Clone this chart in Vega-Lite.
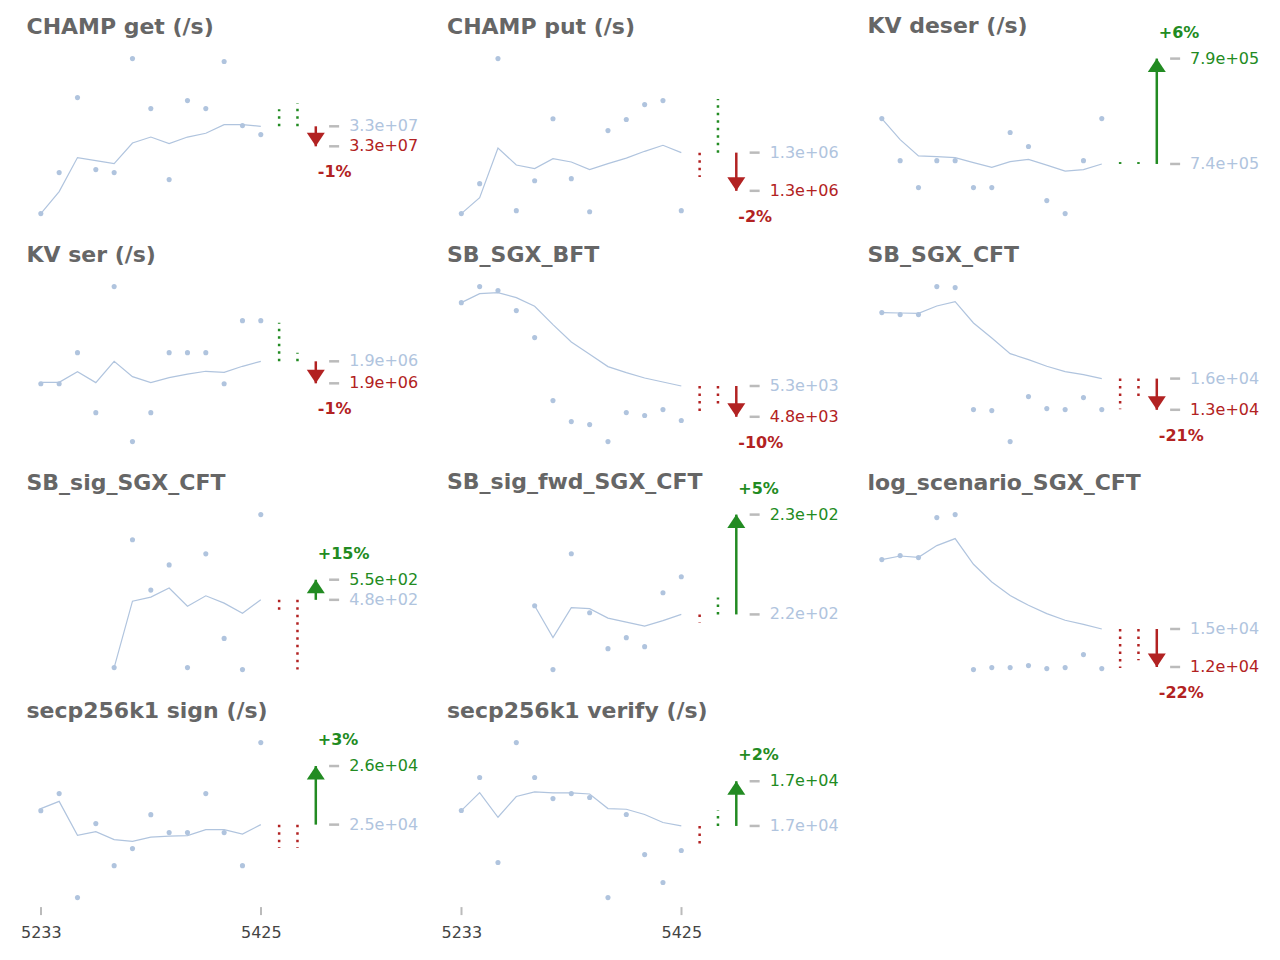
{
"$schema": "https://vega.github.io/schema/vega-lite/v6.json",
"padding": {"left": 19.5, "top": 14.6, "right": 0, "bottom": 0},
"config": {"view": {"stroke": null}, "font": "DejaVu Sans",
  "title": {"anchor": "start", "frame": "group", "fontSize": 22, "fontWeight": "bold", "color": "#666666", "baseline": "alphabetic", "offset": 17.1, "font": "DejaVu Sans"}},
"bounds": "flush",
"columns": 3,
"spacing": {"row": 73, "column": 100.5},
"resolve": {"scale": {"x": "independent", "y": "independent"}},
"data": {"values": [
{"p":"cg","k":"pt","x":5233,"y":31560000},{"p":"cg","k":"pt","x":5249,"y":32236000},{"p":"cg","k":"pt","x":5265,"y":33474000},{"p":"cg","k":"pt","x":5281,"y":32286000},{"p":"cg","k":"pt","x":5297,"y":32236000},{"p":"cg","k":"pt","x":5313,"y":34117000},{"p":"cg","k":"pt","x":5329,"y":33292000},{"p":"cg","k":"pt","x":5345,"y":32121000},{"p":"cg","k":"pt","x":5361,"y":33424000},{"p":"cg","k":"pt","x":5377,"y":33292000},{"p":"cg","k":"pt","x":5393,"y":34068000},{"p":"cg","k":"pt","x":5409,"y":33012000},{"p":"cg","k":"pt","x":5425,"y":32863000},
{"p":"cg","k":"ln","x":5233,"y":31560000},{"p":"cg","k":"ln","x":5249,"y":31923000},{"p":"cg","k":"ln","x":5265,"y":32484000},{"p":"cg","k":"ln","x":5281,"y":32434000},{"p":"cg","k":"ln","x":5297,"y":32385000},{"p":"cg","k":"ln","x":5313,"y":32724000},{"p":"cg","k":"ln","x":5329,"y":32823000},{"p":"cg","k":"ln","x":5345,"y":32715000},{"p":"cg","k":"ln","x":5361,"y":32823000},{"p":"cg","k":"ln","x":5377,"y":32885000},{"p":"cg","k":"ln","x":5393,"y":33028000},{"p":"cg","k":"ln","x":5409,"y":33028000},{"p":"cg","k":"ln","x":5425,"y":33000000},
{"p":"cg","k":"dot","x":5441,"y":33000000,"y2":33280000,"d":"up"},{"p":"cg","k":"dot","x":5457,"y":33000000,"y2":33380000,"d":"up"},
{"p":"cg","k":"arr","x":5473,"y":33000000,"y2":32670000,"d":"down","t":"-1%"},
{"p":"cg","k":"lbl","x":5489,"y":33000000,"d":"base","t":"3.3e+07"},{"p":"cg","k":"lbl","x":5489,"y":32670000,"d":"down","t":"3.3e+07"},

{"p":"cp","k":"pt","x":5233,"y":1258500},{"p":"cp","k":"pt","x":5249,"y":1278900},{"p":"cp","k":"pt","x":5265,"y":1364000},{"p":"cp","k":"pt","x":5281,"y":1260500},{"p":"cp","k":"pt","x":5297,"y":1280900},{"p":"cp","k":"pt","x":5313,"y":1323100},{"p":"cp","k":"pt","x":5329,"y":1282300},{"p":"cp","k":"pt","x":5345,"y":1259800},{"p":"cp","k":"pt","x":5361,"y":1315000},{"p":"cp","k":"pt","x":5377,"y":1322500},{"p":"cp","k":"pt","x":5393,"y":1332700},{"p":"cp","k":"pt","x":5409,"y":1335400},{"p":"cp","k":"pt","x":5425,"y":1260500},
{"p":"cp","k":"ln","x":5233,"y":1258500},{"p":"cp","k":"ln","x":5249,"y":1269400},{"p":"cp","k":"ln","x":5265,"y":1303100},{"p":"cp","k":"ln","x":5281,"y":1291600},{"p":"cp","k":"ln","x":5297,"y":1289100},{"p":"cp","k":"ln","x":5313,"y":1295900},{"p":"cp","k":"ln","x":5329,"y":1293600},{"p":"cp","k":"ln","x":5345,"y":1288400},{"p":"cp","k":"ln","x":5361,"y":1292500},{"p":"cp","k":"ln","x":5377,"y":1296300},{"p":"cp","k":"ln","x":5393,"y":1300900},{"p":"cp","k":"ln","x":5409,"y":1305000},{"p":"cp","k":"ln","x":5425,"y":1300000},
{"p":"cp","k":"dot","x":5441,"y":1300000,"y2":1283400,"d":"down"},{"p":"cp","k":"dot","x":5457,"y":1300000,"y2":1336500,"d":"up"},
{"p":"cp","k":"arr","x":5473,"y":1300000,"y2":1274000,"d":"down","t":"-2%"},
{"p":"cp","k":"lbl","x":5489,"y":1300000,"d":"base","t":"1.3e+06"},{"p":"cp","k":"lbl","x":5489,"y":1274000,"d":"down","t":"1.3e+06"},

{"p":"kd","k":"pt","x":5233,"y":762200},{"p":"kd","k":"pt","x":5249,"y":744400},{"p":"kd","k":"pt","x":5265,"y":733000},{"p":"kd","k":"pt","x":5281,"y":744400},{"p":"kd","k":"pt","x":5297,"y":744400},{"p":"kd","k":"pt","x":5313,"y":733000},{"p":"kd","k":"pt","x":5329,"y":733000},{"p":"kd","k":"pt","x":5345,"y":756300},{"p":"kd","k":"pt","x":5361,"y":750400},{"p":"kd","k":"pt","x":5377,"y":727500},{"p":"kd","k":"pt","x":5393,"y":722000},{"p":"kd","k":"pt","x":5409,"y":744400},{"p":"kd","k":"pt","x":5425,"y":762200},
{"p":"kd","k":"ln","x":5233,"y":762200},{"p":"kd","k":"ln","x":5249,"y":753300},{"p":"kd","k":"ln","x":5265,"y":746400},{"p":"kd","k":"ln","x":5281,"y":746100},{"p":"kd","k":"ln","x":5297,"y":745700},{"p":"kd","k":"ln","x":5313,"y":743600},{"p":"kd","k":"ln","x":5329,"y":741600},{"p":"kd","k":"ln","x":5345,"y":744000},{"p":"kd","k":"ln","x":5361,"y":744900},{"p":"kd","k":"ln","x":5377,"y":742500},{"p":"kd","k":"ln","x":5393,"y":740000},{"p":"kd","k":"ln","x":5409,"y":740600},{"p":"kd","k":"ln","x":5425,"y":743000},
{"p":"kd","k":"dot","x":5441,"y":743000,"y2":743800,"d":"up"},{"p":"kd","k":"dot","x":5457,"y":743000,"y2":743800,"d":"up"},
{"p":"kd","k":"arr","x":5473,"y":743000,"y2":787580,"d":"up","t":"+6%"},
{"p":"kd","k":"lbl","x":5489,"y":743000,"d":"base","t":"7.4e+05"},{"p":"kd","k":"lbl","x":5489,"y":787580,"d":"up","t":"7.9e+05"},

{"p":"ks","k":"pt","x":5233,"y":1880700},{"p":"ks","k":"pt","x":5249,"y":1880700},{"p":"ks","k":"pt","x":5265,"y":1907500},{"p":"ks","k":"pt","x":5281,"y":1855700},{"p":"ks","k":"pt","x":5297,"y":1964500},{"p":"ks","k":"pt","x":5313,"y":1830700},{"p":"ks","k":"pt","x":5329,"y":1855700},{"p":"ks","k":"pt","x":5345,"y":1907500},{"p":"ks","k":"pt","x":5361,"y":1907500},{"p":"ks","k":"pt","x":5377,"y":1907500},{"p":"ks","k":"pt","x":5393,"y":1880700},{"p":"ks","k":"pt","x":5409,"y":1935100},{"p":"ks","k":"pt","x":5425,"y":1935100},
{"p":"ks","k":"ln","x":5233,"y":1881900},{"p":"ks","k":"ln","x":5249,"y":1881900},{"p":"ks","k":"ln","x":5265,"y":1891100},{"p":"ks","k":"ln","x":5281,"y":1881600},{"p":"ks","k":"ln","x":5297,"y":1900000},{"p":"ks","k":"ln","x":5313,"y":1886800},{"p":"ks","k":"ln","x":5329,"y":1881600},{"p":"ks","k":"ln","x":5345,"y":1885900},{"p":"ks","k":"ln","x":5361,"y":1889000},{"p":"ks","k":"ln","x":5377,"y":1891400},{"p":"ks","k":"ln","x":5393,"y":1890500},{"p":"ks","k":"ln","x":5409,"y":1895700},{"p":"ks","k":"ln","x":5425,"y":1900000},
{"p":"ks","k":"dot","x":5441,"y":1900000,"y2":1933400,"d":"up"},{"p":"ks","k":"dot","x":5457,"y":1900000,"y2":1907500,"d":"up"},
{"p":"ks","k":"arr","x":5473,"y":1900000,"y2":1881000,"d":"down","t":"-1%"},
{"p":"ks","k":"lbl","x":5489,"y":1900000,"d":"base","t":"1.9e+06"},{"p":"ks","k":"lbl","x":5489,"y":1881000,"d":"down","t":"1.9e+06"},

{"p":"bft","k":"pt","x":5233,"y":6735},{"p":"bft","k":"pt","x":5249,"y":7011},{"p":"bft","k":"pt","x":5265,"y":6942},{"p":"bft","k":"pt","x":5281,"y":6598},{"p":"bft","k":"pt","x":5297,"y":6133},{"p":"bft","k":"pt","x":5313,"y":5049},{"p":"bft","k":"pt","x":5329,"y":4687},{"p":"bft","k":"pt","x":5345,"y":4636},{"p":"bft","k":"pt","x":5361,"y":4343},{"p":"bft","k":"pt","x":5377,"y":4842},{"p":"bft","k":"pt","x":5393,"y":4791},{"p":"bft","k":"pt","x":5409,"y":4894},{"p":"bft","k":"pt","x":5425,"y":4705},
{"p":"bft","k":"ln","x":5233,"y":6735},{"p":"bft","k":"ln","x":5249,"y":6890},{"p":"bft","k":"ln","x":5265,"y":6907},{"p":"bft","k":"ln","x":5281,"y":6821},{"p":"bft","k":"ln","x":5297,"y":6672},{"p":"bft","k":"ln","x":5313,"y":6357},{"p":"bft","k":"ln","x":5329,"y":6057},{"p":"bft","k":"ln","x":5345,"y":5846},{"p":"bft","k":"ln","x":5361,"y":5634},{"p":"bft","k":"ln","x":5377,"y":5531},{"p":"bft","k":"ln","x":5393,"y":5438},{"p":"bft","k":"ln","x":5409,"y":5369},{"p":"bft","k":"ln","x":5425,"y":5300},
{"p":"bft","k":"dot","x":5441,"y":5300,"y2":4865,"d":"down"},{"p":"bft","k":"dot","x":5457,"y":5300,"y2":4997,"d":"down"},
{"p":"bft","k":"arr","x":5473,"y":5300,"y2":4770,"d":"down","t":"-10%"},
{"p":"bft","k":"lbl","x":5489,"y":5300,"d":"base","t":"5.3e+03"},{"p":"bft","k":"lbl","x":5489,"y":4770,"d":"down","t":"4.8e+03"},

{"p":"cft","k":"pt","x":5233,"y":23108},{"p":"cft","k":"pt","x":5249,"y":22893},{"p":"cft","k":"pt","x":5265,"y":22893},{"p":"cft","k":"pt","x":5281,"y":25908},{"p":"cft","k":"pt","x":5297,"y":25801},{"p":"cft","k":"pt","x":5313,"y":12661},{"p":"cft","k":"pt","x":5329,"y":12554},{"p":"cft","k":"pt","x":5345,"y":9215},{"p":"cft","k":"pt","x":5361,"y":14061},{"p":"cft","k":"pt","x":5377,"y":12769},{"p":"cft","k":"pt","x":5393,"y":12661},{"p":"cft","k":"pt","x":5409,"y":13954},{"p":"cft","k":"pt","x":5425,"y":12661},
{"p":"cft","k":"ln","x":5233,"y":23108},{"p":"cft","k":"ln","x":5249,"y":23065},{"p":"cft","k":"ln","x":5265,"y":23033},{"p":"cft","k":"ln","x":5281,"y":23819},{"p":"cft","k":"ln","x":5297,"y":24293},{"p":"cft","k":"ln","x":5313,"y":21988},{"p":"cft","k":"ln","x":5329,"y":20373},{"p":"cft","k":"ln","x":5345,"y":18693},{"p":"cft","k":"ln","x":5361,"y":18046},{"p":"cft","k":"ln","x":5377,"y":17325},{"p":"cft","k":"ln","x":5393,"y":16754},{"p":"cft","k":"ln","x":5409,"y":16431},{"p":"cft","k":"ln","x":5425,"y":16000},
{"p":"cft","k":"dot","x":5441,"y":16000,"y2":12694,"d":"down"},{"p":"cft","k":"dot","x":5457,"y":16000,"y2":14126,"d":"down"},
{"p":"cft","k":"arr","x":5473,"y":16000,"y2":12640,"d":"down","t":"-21%"},
{"p":"cft","k":"lbl","x":5489,"y":16000,"d":"base","t":"1.6e+04"},{"p":"cft","k":"lbl","x":5489,"y":12640,"d":"down","t":"1.3e+04"},

{"p":"sig","k":"pt","x":5297,"y":237.7},{"p":"sig","k":"pt","x":5313,"y":694.9},{"p":"sig","k":"pt","x":5329,"y":514.9},{"p":"sig","k":"pt","x":5345,"y":604.9},{"p":"sig","k":"pt","x":5361,"y":237.7},{"p":"sig","k":"pt","x":5377,"y":644.5},{"p":"sig","k":"pt","x":5393,"y":342.1},{"p":"sig","k":"pt","x":5409,"y":230.5},{"p":"sig","k":"pt","x":5425,"y":784.9},
{"p":"sig","k":"ln","x":5297,"y":237.7},{"p":"sig","k":"ln","x":5313,"y":475.3},{"p":"sig","k":"ln","x":5329,"y":489.7},{"p":"sig","k":"ln","x":5345,"y":522.1},{"p":"sig","k":"ln","x":5361,"y":457.3},{"p":"sig","k":"ln","x":5377,"y":494.4},{"p":"sig","k":"ln","x":5393,"y":468.1},{"p":"sig","k":"ln","x":5409,"y":432.1},{"p":"sig","k":"ln","x":5425,"y":480},
{"p":"sig","k":"dot","x":5441,"y":480,"y2":442.9,"d":"down"},{"p":"sig","k":"dot","x":5457,"y":480,"y2":230.5,"d":"down"},
{"p":"sig","k":"arr","x":5473,"y":480,"y2":552,"d":"up","t":"+15%"},
{"p":"sig","k":"lbl","x":5489,"y":480,"d":"base","t":"4.8e+02"},{"p":"sig","k":"lbl","x":5489,"y":552,"d":"up","t":"5.5e+02"},

{"p":"fwd","k":"pt","x":5297,"y":220.96},{"p":"fwd","k":"pt","x":5313,"y":213.92},{"p":"fwd","k":"pt","x":5329,"y":226.68},{"p":"fwd","k":"pt","x":5345,"y":220.19},{"p":"fwd","k":"pt","x":5361,"y":216.23},{"p":"fwd","k":"pt","x":5377,"y":217.44},{"p":"fwd","k":"pt","x":5393,"y":216.45},{"p":"fwd","k":"pt","x":5409,"y":222.39},{"p":"fwd","k":"pt","x":5425,"y":224.15},
{"p":"fwd","k":"ln","x":5297,"y":220.96},{"p":"fwd","k":"ln","x":5313,"y":217.44},{"p":"fwd","k":"ln","x":5329,"y":220.74},{"p":"fwd","k":"ln","x":5345,"y":220.63},{"p":"fwd","k":"ln","x":5361,"y":219.59},{"p":"fwd","k":"ln","x":5377,"y":219.15},{"p":"fwd","k":"ln","x":5393,"y":218.71},{"p":"fwd","k":"ln","x":5409,"y":219.31},{"p":"fwd","k":"ln","x":5425,"y":220},
{"p":"fwd","k":"dot","x":5441,"y":220,"y2":219.12,"d":"down"},{"p":"fwd","k":"dot","x":5457,"y":220,"y2":221.87,"d":"up"},
{"p":"fwd","k":"arr","x":5473,"y":220,"y2":231,"d":"up","t":"+5%"},
{"p":"fwd","k":"lbl","x":5489,"y":220,"d":"base","t":"2.2e+02"},{"p":"fwd","k":"lbl","x":5489,"y":231,"d":"up","t":"2.3e+02"},

{"p":"log","k":"pt","x":5233,"y":21027},{"p":"log","k":"pt","x":5249,"y":21374},{"p":"log","k":"pt","x":5265,"y":21200},{"p":"log","k":"pt","x":5281,"y":24674},{"p":"log","k":"pt","x":5297,"y":24934},{"p":"log","k":"pt","x":5313,"y":11474},{"p":"log","k":"pt","x":5329,"y":11648},{"p":"log","k":"pt","x":5345,"y":11648},{"p":"log","k":"pt","x":5361,"y":11822},{"p":"log","k":"pt","x":5377,"y":11561},{"p":"log","k":"pt","x":5393,"y":11648},{"p":"log","k":"pt","x":5409,"y":12777},{"p":"log","k":"pt","x":5425,"y":11561},
{"p":"log","k":"ln","x":5233,"y":21027},{"p":"log","k":"ln","x":5249,"y":21339},{"p":"log","k":"ln","x":5265,"y":21226},{"p":"log","k":"ln","x":5281,"y":22242},{"p":"log","k":"ln","x":5297,"y":22850},{"p":"log","k":"ln","x":5313,"y":20618},{"p":"log","k":"ln","x":5329,"y":19081},{"p":"log","k":"ln","x":5345,"y":17900},{"p":"log","k":"ln","x":5361,"y":17058},{"p":"log","k":"ln","x":5377,"y":16337},{"p":"log","k":"ln","x":5393,"y":15756},{"p":"log","k":"ln","x":5409,"y":15408},{"p":"log","k":"ln","x":5425,"y":15000},
{"p":"log","k":"dot","x":5441,"y":15000,"y2":11613,"d":"down"},{"p":"log","k":"dot","x":5457,"y":15000,"y2":12282,"d":"down"},
{"p":"log","k":"arr","x":5473,"y":15000,"y2":11700,"d":"down","t":"-22%"},
{"p":"log","k":"lbl","x":5489,"y":15000,"d":"base","t":"1.5e+04"},{"p":"log","k":"lbl","x":5489,"y":11700,"d":"down","t":"1.2e+04"},

{"p":"sign","k":"pt","x":5233,"y":25179},{"p":"sign","k":"pt","x":5249,"y":25397},{"p":"sign","k":"pt","x":5265,"y":24066},{"p":"sign","k":"pt","x":5281,"y":25013},{"p":"sign","k":"pt","x":5297,"y":24475},{"p":"sign","k":"pt","x":5313,"y":24693},{"p":"sign","k":"pt","x":5329,"y":25128},{"p":"sign","k":"pt","x":5345,"y":24898},{"p":"sign","k":"pt","x":5361,"y":24898},{"p":"sign","k":"pt","x":5377,"y":25397},{"p":"sign","k":"pt","x":5393,"y":24898},{"p":"sign","k":"pt","x":5409,"y":24475},{"p":"sign","k":"pt","x":5425,"y":26050},
{"p":"sign","k":"ln","x":5233,"y":25205},{"p":"sign","k":"ln","x":5249,"y":25298},{"p":"sign","k":"ln","x":5265,"y":24863},{"p":"sign","k":"ln","x":5281,"y":24910},{"p":"sign","k":"ln","x":5297,"y":24808},{"p":"sign","k":"ln","x":5313,"y":24786},{"p":"sign","k":"ln","x":5329,"y":24841},{"p":"sign","k":"ln","x":5345,"y":24854},{"p":"sign","k":"ln","x":5361,"y":24859},{"p":"sign","k":"ln","x":5377,"y":24936},{"p":"sign","k":"ln","x":5393,"y":24936},{"p":"sign","k":"ln","x":5409,"y":24880},{"p":"sign","k":"ln","x":5425,"y":25000},
{"p":"sign","k":"dot","x":5441,"y":25000,"y2":24700,"d":"down"},{"p":"sign","k":"dot","x":5457,"y":25000,"y2":24700,"d":"down"},
{"p":"sign","k":"arr","x":5473,"y":25000,"y2":25750,"d":"up","t":"+3%"},
{"p":"sign","k":"lbl","x":5489,"y":25000,"d":"base","t":"2.5e+04"},{"p":"sign","k":"lbl","x":5489,"y":25750,"d":"up","t":"2.6e+04"},

{"p":"ver","k":"pt","x":5233,"y":17117},{"p":"ver","k":"pt","x":5249,"y":17368},{"p":"ver","k":"pt","x":5265,"y":16722},{"p":"ver","k":"pt","x":5281,"y":17634},{"p":"ver","k":"pt","x":5297,"y":17368},{"p":"ver","k":"pt","x":5313,"y":17208},{"p":"ver","k":"pt","x":5329,"y":17246},{"p":"ver","k":"pt","x":5345,"y":17216},{"p":"ver","k":"pt","x":5361,"y":16455},{"p":"ver","k":"pt","x":5377,"y":17087},{"p":"ver","k":"pt","x":5393,"y":16782},{"p":"ver","k":"pt","x":5409,"y":16570},{"p":"ver","k":"pt","x":5425,"y":16813},
{"p":"ver","k":"ln","x":5233,"y":17117},{"p":"ver","k":"ln","x":5249,"y":17254},{"p":"ver","k":"ln","x":5265,"y":17066},{"p":"ver","k":"ln","x":5281,"y":17224},{"p":"ver","k":"ln","x":5297,"y":17259},{"p":"ver","k":"ln","x":5313,"y":17251},{"p":"ver","k":"ln","x":5329,"y":17251},{"p":"ver","k":"ln","x":5345,"y":17243},{"p":"ver","k":"ln","x":5361,"y":17132},{"p":"ver","k":"ln","x":5377,"y":17127},{"p":"ver","k":"ln","x":5393,"y":17087},{"p":"ver","k":"ln","x":5409,"y":17026},{"p":"ver","k":"ln","x":5425,"y":17000},
{"p":"ver","k":"dot","x":5441,"y":17000,"y2":16866,"d":"down"},{"p":"ver","k":"dot","x":5457,"y":17000,"y2":17117,"d":"up"},
{"p":"ver","k":"arr","x":5473,"y":17000,"y2":17340,"d":"up","t":"+2%"},
{"p":"ver","k":"lbl","x":5489,"y":17000,"d":"base","t":"1.7e+04"},{"p":"ver","k":"lbl","x":5489,"y":17340,"d":"up","t":"1.7e+04"}
]},
"concat": [
{"title": "CHAMP get (/s)", "width": 320, "height": 155, "transform": [{"filter": "datum.p=='cg'"}],
 "encoding": {"x": {"field": "x", "type": "quantitative", "scale": {"domain": [5220.5, 5499.8], "nice": false, "zero": false}, "axis": null}, "y": {"field": "y", "type": "quantitative", "scale": {"zero": false, "nice": false}, "axis": null}},
 "layer": [
  {"transform": [{"filter": "datum.k=='pt'"}], "mark": {"type": "circle", "size": 26, "color": "#b0c4de", "opacity": 1}},
  {"transform": [{"filter": "datum.k=='ln'"}], "mark": {"type": "line", "color": "#b0c4de", "strokeWidth": 1.2}},
  {"transform": [{"filter": "datum.k=='dot'"}], "mark": {"type": "rule", "strokeWidth": 2.5, "strokeDash": [2.5, 5]}, "encoding": {"y2": {"field": "y2"}, "color": {"field": "d", "type": "nominal", "scale": {"domain": ["base", "up", "down"], "range": ["#b0c4de", "#228b22", "#b22222"]}, "legend": null}}},
  {"transform": [{"filter": "datum.k=='arr'"}], "mark": {"type": "rule", "strokeWidth": 2.5}, "encoding": {"y2": {"field": "y2"}, "color": {"field": "d", "type": "nominal", "scale": {"domain": ["base", "up", "down"], "range": ["#b0c4de", "#228b22", "#b22222"]}, "legend": null}}},
  {"transform": [{"filter": "datum.k=='arr'"}], "mark": {"type": "point", "filled": true, "size": 324, "opacity": 1, "strokeWidth": 0}, "encoding": {"y": {"field": "y2", "type": "quantitative", "scale": {"zero": false, "nice": false}, "axis": null}, "color": {"field": "d", "type": "nominal", "scale": {"domain": ["base", "up", "down"], "range": ["#b0c4de", "#228b22", "#b22222"]}, "legend": null}, "shape": {"field": "d", "type": "nominal", "scale": {"domain": ["up", "down"], "range": ["M-1,1.5L1,1.5L0,0Z", "M-1,-1.5L1,-1.5L0,0Z"]}, "legend": null}}},
  {"transform": [{"filter": "datum.k=='lbl'"}], "mark": {"type": "point", "shape": "stroke", "size": 100, "strokeWidth": 2.5, "color": "#bbbbbb", "opacity": 1}},
  {"transform": [{"filter": "datum.k=='lbl'"}], "mark": {"type": "text", "align": "left", "baseline": "middle", "dx": 15, "fontSize": 16}, "encoding": {"text": {"field": "t"}, "color": {"field": "d", "type": "nominal", "scale": {"domain": ["base", "up", "down"], "range": ["#b0c4de", "#228b22", "#b22222"]}, "legend": null}}},
  {"transform": [{"filter": "datum.k=='arr' && datum.d=='up'"}], "mark": {"type": "text", "align": "left", "baseline": "middle", "dx": 2, "dy": -26, "fontSize": 16, "fontWeight": "bold"}, "encoding": {"y": {"field": "y2", "type": "quantitative", "scale": {"zero": false, "nice": false}, "axis": null}, "text": {"field": "t"}, "color": {"field": "d", "type": "nominal", "scale": {"domain": ["base", "up", "down"], "range": ["#b0c4de", "#228b22", "#b22222"]}, "legend": null}}},
  {"transform": [{"filter": "datum.k=='arr' && datum.d=='down'"}], "mark": {"type": "text", "align": "left", "baseline": "middle", "dx": 2, "dy": 26, "fontSize": 16, "fontWeight": "bold"}, "encoding": {"y": {"field": "y2", "type": "quantitative", "scale": {"zero": false, "nice": false}, "axis": null}, "text": {"field": "t"}, "color": {"field": "d", "type": "nominal", "scale": {"domain": ["base", "up", "down"], "range": ["#b0c4de", "#228b22", "#b22222"]}, "legend": null}}}
 ]},
{"title": "CHAMP put (/s)", "width": 320, "height": 155, "transform": [{"filter": "datum.p=='cp'"}],
 "encoding": {"x": {"field": "x", "type": "quantitative", "scale": {"domain": [5220.5, 5499.8], "nice": false, "zero": false}, "axis": null}, "y": {"field": "y", "type": "quantitative", "scale": {"zero": false, "nice": false}, "axis": null}},
 "layer": [
  {"transform": [{"filter": "datum.k=='pt'"}], "mark": {"type": "circle", "size": 26, "color": "#b0c4de", "opacity": 1}},
  {"transform": [{"filter": "datum.k=='ln'"}], "mark": {"type": "line", "color": "#b0c4de", "strokeWidth": 1.2}},
  {"transform": [{"filter": "datum.k=='dot'"}], "mark": {"type": "rule", "strokeWidth": 2.5, "strokeDash": [2.5, 5]}, "encoding": {"y2": {"field": "y2"}, "color": {"field": "d", "type": "nominal", "scale": {"domain": ["base", "up", "down"], "range": ["#b0c4de", "#228b22", "#b22222"]}, "legend": null}}},
  {"transform": [{"filter": "datum.k=='arr'"}], "mark": {"type": "rule", "strokeWidth": 2.5}, "encoding": {"y2": {"field": "y2"}, "color": {"field": "d", "type": "nominal", "scale": {"domain": ["base", "up", "down"], "range": ["#b0c4de", "#228b22", "#b22222"]}, "legend": null}}},
  {"transform": [{"filter": "datum.k=='arr'"}], "mark": {"type": "point", "filled": true, "size": 324, "opacity": 1, "strokeWidth": 0}, "encoding": {"y": {"field": "y2", "type": "quantitative", "scale": {"zero": false, "nice": false}, "axis": null}, "color": {"field": "d", "type": "nominal", "scale": {"domain": ["base", "up", "down"], "range": ["#b0c4de", "#228b22", "#b22222"]}, "legend": null}, "shape": {"field": "d", "type": "nominal", "scale": {"domain": ["up", "down"], "range": ["M-1,1.5L1,1.5L0,0Z", "M-1,-1.5L1,-1.5L0,0Z"]}, "legend": null}}},
  {"transform": [{"filter": "datum.k=='lbl'"}], "mark": {"type": "point", "shape": "stroke", "size": 100, "strokeWidth": 2.5, "color": "#bbbbbb", "opacity": 1}},
  {"transform": [{"filter": "datum.k=='lbl'"}], "mark": {"type": "text", "align": "left", "baseline": "middle", "dx": 15, "fontSize": 16}, "encoding": {"text": {"field": "t"}, "color": {"field": "d", "type": "nominal", "scale": {"domain": ["base", "up", "down"], "range": ["#b0c4de", "#228b22", "#b22222"]}, "legend": null}}},
  {"transform": [{"filter": "datum.k=='arr' && datum.d=='up'"}], "mark": {"type": "text", "align": "left", "baseline": "middle", "dx": 2, "dy": -26, "fontSize": 16, "fontWeight": "bold"}, "encoding": {"y": {"field": "y2", "type": "quantitative", "scale": {"zero": false, "nice": false}, "axis": null}, "text": {"field": "t"}, "color": {"field": "d", "type": "nominal", "scale": {"domain": ["base", "up", "down"], "range": ["#b0c4de", "#228b22", "#b22222"]}, "legend": null}}},
  {"transform": [{"filter": "datum.k=='arr' && datum.d=='down'"}], "mark": {"type": "text", "align": "left", "baseline": "middle", "dx": 2, "dy": 26, "fontSize": 16, "fontWeight": "bold"}, "encoding": {"y": {"field": "y2", "type": "quantitative", "scale": {"zero": false, "nice": false}, "axis": null}, "text": {"field": "t"}, "color": {"field": "d", "type": "nominal", "scale": {"domain": ["base", "up", "down"], "range": ["#b0c4de", "#228b22", "#b22222"]}, "legend": null}}}
 ]},
{"title": {"text": "KV deser (/s)", "offset": -13.9}, "width": 320, "height": 155, "transform": [{"filter": "datum.p=='kd'"}],
 "encoding": {"x": {"field": "x", "type": "quantitative", "scale": {"domain": [5220.5, 5499.8], "nice": false, "zero": false}, "axis": null}, "y": {"field": "y", "type": "quantitative", "scale": {"zero": false, "nice": false}, "axis": null}},
 "layer": [
  {"transform": [{"filter": "datum.k=='pt'"}], "mark": {"type": "circle", "size": 26, "color": "#b0c4de", "opacity": 1}},
  {"transform": [{"filter": "datum.k=='ln'"}], "mark": {"type": "line", "color": "#b0c4de", "strokeWidth": 1.2}},
  {"transform": [{"filter": "datum.k=='dot'"}], "mark": {"type": "rule", "strokeWidth": 2.5, "strokeDash": [2.5, 5]}, "encoding": {"y2": {"field": "y2"}, "color": {"field": "d", "type": "nominal", "scale": {"domain": ["base", "up", "down"], "range": ["#b0c4de", "#228b22", "#b22222"]}, "legend": null}}},
  {"transform": [{"filter": "datum.k=='arr'"}], "mark": {"type": "rule", "strokeWidth": 2.5}, "encoding": {"y2": {"field": "y2"}, "color": {"field": "d", "type": "nominal", "scale": {"domain": ["base", "up", "down"], "range": ["#b0c4de", "#228b22", "#b22222"]}, "legend": null}}},
  {"transform": [{"filter": "datum.k=='arr'"}], "mark": {"type": "point", "filled": true, "size": 324, "opacity": 1, "strokeWidth": 0}, "encoding": {"y": {"field": "y2", "type": "quantitative", "scale": {"zero": false, "nice": false}, "axis": null}, "color": {"field": "d", "type": "nominal", "scale": {"domain": ["base", "up", "down"], "range": ["#b0c4de", "#228b22", "#b22222"]}, "legend": null}, "shape": {"field": "d", "type": "nominal", "scale": {"domain": ["up", "down"], "range": ["M-1,1.5L1,1.5L0,0Z", "M-1,-1.5L1,-1.5L0,0Z"]}, "legend": null}}},
  {"transform": [{"filter": "datum.k=='lbl'"}], "mark": {"type": "point", "shape": "stroke", "size": 100, "strokeWidth": 2.5, "color": "#bbbbbb", "opacity": 1}},
  {"transform": [{"filter": "datum.k=='lbl'"}], "mark": {"type": "text", "align": "left", "baseline": "middle", "dx": 15, "fontSize": 16}, "encoding": {"text": {"field": "t"}, "color": {"field": "d", "type": "nominal", "scale": {"domain": ["base", "up", "down"], "range": ["#b0c4de", "#228b22", "#b22222"]}, "legend": null}}},
  {"transform": [{"filter": "datum.k=='arr' && datum.d=='up'"}], "mark": {"type": "text", "align": "left", "baseline": "middle", "dx": 2, "dy": -26, "fontSize": 16, "fontWeight": "bold"}, "encoding": {"y": {"field": "y2", "type": "quantitative", "scale": {"zero": false, "nice": false}, "axis": null}, "text": {"field": "t"}, "color": {"field": "d", "type": "nominal", "scale": {"domain": ["base", "up", "down"], "range": ["#b0c4de", "#228b22", "#b22222"]}, "legend": null}}},
  {"transform": [{"filter": "datum.k=='arr' && datum.d=='down'"}], "mark": {"type": "text", "align": "left", "baseline": "middle", "dx": 2, "dy": 26, "fontSize": 16, "fontWeight": "bold"}, "encoding": {"y": {"field": "y2", "type": "quantitative", "scale": {"zero": false, "nice": false}, "axis": null}, "text": {"field": "t"}, "color": {"field": "d", "type": "nominal", "scale": {"domain": ["base", "up", "down"], "range": ["#b0c4de", "#228b22", "#b22222"]}, "legend": null}}}
 ]},
{"title": "KV ser (/s)", "width": 320, "height": 155, "transform": [{"filter": "datum.p=='ks'"}],
 "encoding": {"x": {"field": "x", "type": "quantitative", "scale": {"domain": [5220.5, 5499.8], "nice": false, "zero": false}, "axis": null}, "y": {"field": "y", "type": "quantitative", "scale": {"zero": false, "nice": false}, "axis": null}},
 "layer": [
  {"transform": [{"filter": "datum.k=='pt'"}], "mark": {"type": "circle", "size": 26, "color": "#b0c4de", "opacity": 1}},
  {"transform": [{"filter": "datum.k=='ln'"}], "mark": {"type": "line", "color": "#b0c4de", "strokeWidth": 1.2}},
  {"transform": [{"filter": "datum.k=='dot'"}], "mark": {"type": "rule", "strokeWidth": 2.5, "strokeDash": [2.5, 5]}, "encoding": {"y2": {"field": "y2"}, "color": {"field": "d", "type": "nominal", "scale": {"domain": ["base", "up", "down"], "range": ["#b0c4de", "#228b22", "#b22222"]}, "legend": null}}},
  {"transform": [{"filter": "datum.k=='arr'"}], "mark": {"type": "rule", "strokeWidth": 2.5}, "encoding": {"y2": {"field": "y2"}, "color": {"field": "d", "type": "nominal", "scale": {"domain": ["base", "up", "down"], "range": ["#b0c4de", "#228b22", "#b22222"]}, "legend": null}}},
  {"transform": [{"filter": "datum.k=='arr'"}], "mark": {"type": "point", "filled": true, "size": 324, "opacity": 1, "strokeWidth": 0}, "encoding": {"y": {"field": "y2", "type": "quantitative", "scale": {"zero": false, "nice": false}, "axis": null}, "color": {"field": "d", "type": "nominal", "scale": {"domain": ["base", "up", "down"], "range": ["#b0c4de", "#228b22", "#b22222"]}, "legend": null}, "shape": {"field": "d", "type": "nominal", "scale": {"domain": ["up", "down"], "range": ["M-1,1.5L1,1.5L0,0Z", "M-1,-1.5L1,-1.5L0,0Z"]}, "legend": null}}},
  {"transform": [{"filter": "datum.k=='lbl'"}], "mark": {"type": "point", "shape": "stroke", "size": 100, "strokeWidth": 2.5, "color": "#bbbbbb", "opacity": 1}},
  {"transform": [{"filter": "datum.k=='lbl'"}], "mark": {"type": "text", "align": "left", "baseline": "middle", "dx": 15, "fontSize": 16}, "encoding": {"text": {"field": "t"}, "color": {"field": "d", "type": "nominal", "scale": {"domain": ["base", "up", "down"], "range": ["#b0c4de", "#228b22", "#b22222"]}, "legend": null}}},
  {"transform": [{"filter": "datum.k=='arr' && datum.d=='up'"}], "mark": {"type": "text", "align": "left", "baseline": "middle", "dx": 2, "dy": -26, "fontSize": 16, "fontWeight": "bold"}, "encoding": {"y": {"field": "y2", "type": "quantitative", "scale": {"zero": false, "nice": false}, "axis": null}, "text": {"field": "t"}, "color": {"field": "d", "type": "nominal", "scale": {"domain": ["base", "up", "down"], "range": ["#b0c4de", "#228b22", "#b22222"]}, "legend": null}}},
  {"transform": [{"filter": "datum.k=='arr' && datum.d=='down'"}], "mark": {"type": "text", "align": "left", "baseline": "middle", "dx": 2, "dy": 26, "fontSize": 16, "fontWeight": "bold"}, "encoding": {"y": {"field": "y2", "type": "quantitative", "scale": {"zero": false, "nice": false}, "axis": null}, "text": {"field": "t"}, "color": {"field": "d", "type": "nominal", "scale": {"domain": ["base", "up", "down"], "range": ["#b0c4de", "#228b22", "#b22222"]}, "legend": null}}}
 ]},
{"title": "SB_SGX_BFT", "width": 320, "height": 155, "transform": [{"filter": "datum.p=='bft'"}],
 "encoding": {"x": {"field": "x", "type": "quantitative", "scale": {"domain": [5220.5, 5499.8], "nice": false, "zero": false}, "axis": null}, "y": {"field": "y", "type": "quantitative", "scale": {"zero": false, "nice": false}, "axis": null}},
 "layer": [
  {"transform": [{"filter": "datum.k=='pt'"}], "mark": {"type": "circle", "size": 26, "color": "#b0c4de", "opacity": 1}},
  {"transform": [{"filter": "datum.k=='ln'"}], "mark": {"type": "line", "color": "#b0c4de", "strokeWidth": 1.2}},
  {"transform": [{"filter": "datum.k=='dot'"}], "mark": {"type": "rule", "strokeWidth": 2.5, "strokeDash": [2.5, 5]}, "encoding": {"y2": {"field": "y2"}, "color": {"field": "d", "type": "nominal", "scale": {"domain": ["base", "up", "down"], "range": ["#b0c4de", "#228b22", "#b22222"]}, "legend": null}}},
  {"transform": [{"filter": "datum.k=='arr'"}], "mark": {"type": "rule", "strokeWidth": 2.5}, "encoding": {"y2": {"field": "y2"}, "color": {"field": "d", "type": "nominal", "scale": {"domain": ["base", "up", "down"], "range": ["#b0c4de", "#228b22", "#b22222"]}, "legend": null}}},
  {"transform": [{"filter": "datum.k=='arr'"}], "mark": {"type": "point", "filled": true, "size": 324, "opacity": 1, "strokeWidth": 0}, "encoding": {"y": {"field": "y2", "type": "quantitative", "scale": {"zero": false, "nice": false}, "axis": null}, "color": {"field": "d", "type": "nominal", "scale": {"domain": ["base", "up", "down"], "range": ["#b0c4de", "#228b22", "#b22222"]}, "legend": null}, "shape": {"field": "d", "type": "nominal", "scale": {"domain": ["up", "down"], "range": ["M-1,1.5L1,1.5L0,0Z", "M-1,-1.5L1,-1.5L0,0Z"]}, "legend": null}}},
  {"transform": [{"filter": "datum.k=='lbl'"}], "mark": {"type": "point", "shape": "stroke", "size": 100, "strokeWidth": 2.5, "color": "#bbbbbb", "opacity": 1}},
  {"transform": [{"filter": "datum.k=='lbl'"}], "mark": {"type": "text", "align": "left", "baseline": "middle", "dx": 15, "fontSize": 16}, "encoding": {"text": {"field": "t"}, "color": {"field": "d", "type": "nominal", "scale": {"domain": ["base", "up", "down"], "range": ["#b0c4de", "#228b22", "#b22222"]}, "legend": null}}},
  {"transform": [{"filter": "datum.k=='arr' && datum.d=='up'"}], "mark": {"type": "text", "align": "left", "baseline": "middle", "dx": 2, "dy": -26, "fontSize": 16, "fontWeight": "bold"}, "encoding": {"y": {"field": "y2", "type": "quantitative", "scale": {"zero": false, "nice": false}, "axis": null}, "text": {"field": "t"}, "color": {"field": "d", "type": "nominal", "scale": {"domain": ["base", "up", "down"], "range": ["#b0c4de", "#228b22", "#b22222"]}, "legend": null}}},
  {"transform": [{"filter": "datum.k=='arr' && datum.d=='down'"}], "mark": {"type": "text", "align": "left", "baseline": "middle", "dx": 2, "dy": 26, "fontSize": 16, "fontWeight": "bold"}, "encoding": {"y": {"field": "y2", "type": "quantitative", "scale": {"zero": false, "nice": false}, "axis": null}, "text": {"field": "t"}, "color": {"field": "d", "type": "nominal", "scale": {"domain": ["base", "up", "down"], "range": ["#b0c4de", "#228b22", "#b22222"]}, "legend": null}}}
 ]},
{"title": "SB_SGX_CFT", "width": 320, "height": 155, "transform": [{"filter": "datum.p=='cft'"}],
 "encoding": {"x": {"field": "x", "type": "quantitative", "scale": {"domain": [5220.5, 5499.8], "nice": false, "zero": false}, "axis": null}, "y": {"field": "y", "type": "quantitative", "scale": {"zero": false, "nice": false}, "axis": null}},
 "layer": [
  {"transform": [{"filter": "datum.k=='pt'"}], "mark": {"type": "circle", "size": 26, "color": "#b0c4de", "opacity": 1}},
  {"transform": [{"filter": "datum.k=='ln'"}], "mark": {"type": "line", "color": "#b0c4de", "strokeWidth": 1.2}},
  {"transform": [{"filter": "datum.k=='dot'"}], "mark": {"type": "rule", "strokeWidth": 2.5, "strokeDash": [2.5, 5]}, "encoding": {"y2": {"field": "y2"}, "color": {"field": "d", "type": "nominal", "scale": {"domain": ["base", "up", "down"], "range": ["#b0c4de", "#228b22", "#b22222"]}, "legend": null}}},
  {"transform": [{"filter": "datum.k=='arr'"}], "mark": {"type": "rule", "strokeWidth": 2.5}, "encoding": {"y2": {"field": "y2"}, "color": {"field": "d", "type": "nominal", "scale": {"domain": ["base", "up", "down"], "range": ["#b0c4de", "#228b22", "#b22222"]}, "legend": null}}},
  {"transform": [{"filter": "datum.k=='arr'"}], "mark": {"type": "point", "filled": true, "size": 324, "opacity": 1, "strokeWidth": 0}, "encoding": {"y": {"field": "y2", "type": "quantitative", "scale": {"zero": false, "nice": false}, "axis": null}, "color": {"field": "d", "type": "nominal", "scale": {"domain": ["base", "up", "down"], "range": ["#b0c4de", "#228b22", "#b22222"]}, "legend": null}, "shape": {"field": "d", "type": "nominal", "scale": {"domain": ["up", "down"], "range": ["M-1,1.5L1,1.5L0,0Z", "M-1,-1.5L1,-1.5L0,0Z"]}, "legend": null}}},
  {"transform": [{"filter": "datum.k=='lbl'"}], "mark": {"type": "point", "shape": "stroke", "size": 100, "strokeWidth": 2.5, "color": "#bbbbbb", "opacity": 1}},
  {"transform": [{"filter": "datum.k=='lbl'"}], "mark": {"type": "text", "align": "left", "baseline": "middle", "dx": 15, "fontSize": 16}, "encoding": {"text": {"field": "t"}, "color": {"field": "d", "type": "nominal", "scale": {"domain": ["base", "up", "down"], "range": ["#b0c4de", "#228b22", "#b22222"]}, "legend": null}}},
  {"transform": [{"filter": "datum.k=='arr' && datum.d=='up'"}], "mark": {"type": "text", "align": "left", "baseline": "middle", "dx": 2, "dy": -26, "fontSize": 16, "fontWeight": "bold"}, "encoding": {"y": {"field": "y2", "type": "quantitative", "scale": {"zero": false, "nice": false}, "axis": null}, "text": {"field": "t"}, "color": {"field": "d", "type": "nominal", "scale": {"domain": ["base", "up", "down"], "range": ["#b0c4de", "#228b22", "#b22222"]}, "legend": null}}},
  {"transform": [{"filter": "datum.k=='arr' && datum.d=='down'"}], "mark": {"type": "text", "align": "left", "baseline": "middle", "dx": 2, "dy": 26, "fontSize": 16, "fontWeight": "bold"}, "encoding": {"y": {"field": "y2", "type": "quantitative", "scale": {"zero": false, "nice": false}, "axis": null}, "text": {"field": "t"}, "color": {"field": "d", "type": "nominal", "scale": {"domain": ["base", "up", "down"], "range": ["#b0c4de", "#228b22", "#b22222"]}, "legend": null}}}
 ]},
{"title": "SB_sig_SGX_CFT", "width": 320, "height": 155, "transform": [{"filter": "datum.p=='sig'"}],
 "encoding": {"x": {"field": "x", "type": "quantitative", "scale": {"domain": [5220.5, 5499.8], "nice": false, "zero": false}, "axis": null}, "y": {"field": "y", "type": "quantitative", "scale": {"zero": false, "nice": false}, "axis": null}},
 "layer": [
  {"transform": [{"filter": "datum.k=='pt'"}], "mark": {"type": "circle", "size": 26, "color": "#b0c4de", "opacity": 1}},
  {"transform": [{"filter": "datum.k=='ln'"}], "mark": {"type": "line", "color": "#b0c4de", "strokeWidth": 1.2}},
  {"transform": [{"filter": "datum.k=='dot'"}], "mark": {"type": "rule", "strokeWidth": 2.5, "strokeDash": [2.5, 5]}, "encoding": {"y2": {"field": "y2"}, "color": {"field": "d", "type": "nominal", "scale": {"domain": ["base", "up", "down"], "range": ["#b0c4de", "#228b22", "#b22222"]}, "legend": null}}},
  {"transform": [{"filter": "datum.k=='arr'"}], "mark": {"type": "rule", "strokeWidth": 2.5}, "encoding": {"y2": {"field": "y2"}, "color": {"field": "d", "type": "nominal", "scale": {"domain": ["base", "up", "down"], "range": ["#b0c4de", "#228b22", "#b22222"]}, "legend": null}}},
  {"transform": [{"filter": "datum.k=='arr'"}], "mark": {"type": "point", "filled": true, "size": 324, "opacity": 1, "strokeWidth": 0}, "encoding": {"y": {"field": "y2", "type": "quantitative", "scale": {"zero": false, "nice": false}, "axis": null}, "color": {"field": "d", "type": "nominal", "scale": {"domain": ["base", "up", "down"], "range": ["#b0c4de", "#228b22", "#b22222"]}, "legend": null}, "shape": {"field": "d", "type": "nominal", "scale": {"domain": ["up", "down"], "range": ["M-1,1.5L1,1.5L0,0Z", "M-1,-1.5L1,-1.5L0,0Z"]}, "legend": null}}},
  {"transform": [{"filter": "datum.k=='lbl'"}], "mark": {"type": "point", "shape": "stroke", "size": 100, "strokeWidth": 2.5, "color": "#bbbbbb", "opacity": 1}},
  {"transform": [{"filter": "datum.k=='lbl'"}], "mark": {"type": "text", "align": "left", "baseline": "middle", "dx": 15, "fontSize": 16}, "encoding": {"text": {"field": "t"}, "color": {"field": "d", "type": "nominal", "scale": {"domain": ["base", "up", "down"], "range": ["#b0c4de", "#228b22", "#b22222"]}, "legend": null}}},
  {"transform": [{"filter": "datum.k=='arr' && datum.d=='up'"}], "mark": {"type": "text", "align": "left", "baseline": "middle", "dx": 2, "dy": -26, "fontSize": 16, "fontWeight": "bold"}, "encoding": {"y": {"field": "y2", "type": "quantitative", "scale": {"zero": false, "nice": false}, "axis": null}, "text": {"field": "t"}, "color": {"field": "d", "type": "nominal", "scale": {"domain": ["base", "up", "down"], "range": ["#b0c4de", "#228b22", "#b22222"]}, "legend": null}}},
  {"transform": [{"filter": "datum.k=='arr' && datum.d=='down'"}], "mark": {"type": "text", "align": "left", "baseline": "middle", "dx": 2, "dy": 26, "fontSize": 16, "fontWeight": "bold"}, "encoding": {"y": {"field": "y2", "type": "quantitative", "scale": {"zero": false, "nice": false}, "axis": null}, "text": {"field": "t"}, "color": {"field": "d", "type": "nominal", "scale": {"domain": ["base", "up", "down"], "range": ["#b0c4de", "#228b22", "#b22222"]}, "legend": null}}}
 ]},
{"title": {"text": "SB_sig_fwd_SGX_CFT", "offset": -13.9}, "width": 320, "height": 155, "transform": [{"filter": "datum.p=='fwd'"}],
 "encoding": {"x": {"field": "x", "type": "quantitative", "scale": {"domain": [5220.5, 5499.8], "nice": false, "zero": false}, "axis": null}, "y": {"field": "y", "type": "quantitative", "scale": {"zero": false, "nice": false}, "axis": null}},
 "layer": [
  {"transform": [{"filter": "datum.k=='pt'"}], "mark": {"type": "circle", "size": 26, "color": "#b0c4de", "opacity": 1}},
  {"transform": [{"filter": "datum.k=='ln'"}], "mark": {"type": "line", "color": "#b0c4de", "strokeWidth": 1.2}},
  {"transform": [{"filter": "datum.k=='dot'"}], "mark": {"type": "rule", "strokeWidth": 2.5, "strokeDash": [2.5, 5]}, "encoding": {"y2": {"field": "y2"}, "color": {"field": "d", "type": "nominal", "scale": {"domain": ["base", "up", "down"], "range": ["#b0c4de", "#228b22", "#b22222"]}, "legend": null}}},
  {"transform": [{"filter": "datum.k=='arr'"}], "mark": {"type": "rule", "strokeWidth": 2.5}, "encoding": {"y2": {"field": "y2"}, "color": {"field": "d", "type": "nominal", "scale": {"domain": ["base", "up", "down"], "range": ["#b0c4de", "#228b22", "#b22222"]}, "legend": null}}},
  {"transform": [{"filter": "datum.k=='arr'"}], "mark": {"type": "point", "filled": true, "size": 324, "opacity": 1, "strokeWidth": 0}, "encoding": {"y": {"field": "y2", "type": "quantitative", "scale": {"zero": false, "nice": false}, "axis": null}, "color": {"field": "d", "type": "nominal", "scale": {"domain": ["base", "up", "down"], "range": ["#b0c4de", "#228b22", "#b22222"]}, "legend": null}, "shape": {"field": "d", "type": "nominal", "scale": {"domain": ["up", "down"], "range": ["M-1,1.5L1,1.5L0,0Z", "M-1,-1.5L1,-1.5L0,0Z"]}, "legend": null}}},
  {"transform": [{"filter": "datum.k=='lbl'"}], "mark": {"type": "point", "shape": "stroke", "size": 100, "strokeWidth": 2.5, "color": "#bbbbbb", "opacity": 1}},
  {"transform": [{"filter": "datum.k=='lbl'"}], "mark": {"type": "text", "align": "left", "baseline": "middle", "dx": 15, "fontSize": 16}, "encoding": {"text": {"field": "t"}, "color": {"field": "d", "type": "nominal", "scale": {"domain": ["base", "up", "down"], "range": ["#b0c4de", "#228b22", "#b22222"]}, "legend": null}}},
  {"transform": [{"filter": "datum.k=='arr' && datum.d=='up'"}], "mark": {"type": "text", "align": "left", "baseline": "middle", "dx": 2, "dy": -26, "fontSize": 16, "fontWeight": "bold"}, "encoding": {"y": {"field": "y2", "type": "quantitative", "scale": {"zero": false, "nice": false}, "axis": null}, "text": {"field": "t"}, "color": {"field": "d", "type": "nominal", "scale": {"domain": ["base", "up", "down"], "range": ["#b0c4de", "#228b22", "#b22222"]}, "legend": null}}},
  {"transform": [{"filter": "datum.k=='arr' && datum.d=='down'"}], "mark": {"type": "text", "align": "left", "baseline": "middle", "dx": 2, "dy": 26, "fontSize": 16, "fontWeight": "bold"}, "encoding": {"y": {"field": "y2", "type": "quantitative", "scale": {"zero": false, "nice": false}, "axis": null}, "text": {"field": "t"}, "color": {"field": "d", "type": "nominal", "scale": {"domain": ["base", "up", "down"], "range": ["#b0c4de", "#228b22", "#b22222"]}, "legend": null}}}
 ]},
{"title": "log_scenario_SGX_CFT", "width": 320, "height": 155, "transform": [{"filter": "datum.p=='log'"}],
 "encoding": {"x": {"field": "x", "type": "quantitative", "scale": {"domain": [5220.5, 5499.8], "nice": false, "zero": false}, "axis": null}, "y": {"field": "y", "type": "quantitative", "scale": {"zero": false, "nice": false}, "axis": null}},
 "layer": [
  {"transform": [{"filter": "datum.k=='pt'"}], "mark": {"type": "circle", "size": 26, "color": "#b0c4de", "opacity": 1}},
  {"transform": [{"filter": "datum.k=='ln'"}], "mark": {"type": "line", "color": "#b0c4de", "strokeWidth": 1.2}},
  {"transform": [{"filter": "datum.k=='dot'"}], "mark": {"type": "rule", "strokeWidth": 2.5, "strokeDash": [2.5, 5]}, "encoding": {"y2": {"field": "y2"}, "color": {"field": "d", "type": "nominal", "scale": {"domain": ["base", "up", "down"], "range": ["#b0c4de", "#228b22", "#b22222"]}, "legend": null}}},
  {"transform": [{"filter": "datum.k=='arr'"}], "mark": {"type": "rule", "strokeWidth": 2.5}, "encoding": {"y2": {"field": "y2"}, "color": {"field": "d", "type": "nominal", "scale": {"domain": ["base", "up", "down"], "range": ["#b0c4de", "#228b22", "#b22222"]}, "legend": null}}},
  {"transform": [{"filter": "datum.k=='arr'"}], "mark": {"type": "point", "filled": true, "size": 324, "opacity": 1, "strokeWidth": 0}, "encoding": {"y": {"field": "y2", "type": "quantitative", "scale": {"zero": false, "nice": false}, "axis": null}, "color": {"field": "d", "type": "nominal", "scale": {"domain": ["base", "up", "down"], "range": ["#b0c4de", "#228b22", "#b22222"]}, "legend": null}, "shape": {"field": "d", "type": "nominal", "scale": {"domain": ["up", "down"], "range": ["M-1,1.5L1,1.5L0,0Z", "M-1,-1.5L1,-1.5L0,0Z"]}, "legend": null}}},
  {"transform": [{"filter": "datum.k=='lbl'"}], "mark": {"type": "point", "shape": "stroke", "size": 100, "strokeWidth": 2.5, "color": "#bbbbbb", "opacity": 1}},
  {"transform": [{"filter": "datum.k=='lbl'"}], "mark": {"type": "text", "align": "left", "baseline": "middle", "dx": 15, "fontSize": 16}, "encoding": {"text": {"field": "t"}, "color": {"field": "d", "type": "nominal", "scale": {"domain": ["base", "up", "down"], "range": ["#b0c4de", "#228b22", "#b22222"]}, "legend": null}}},
  {"transform": [{"filter": "datum.k=='arr' && datum.d=='up'"}], "mark": {"type": "text", "align": "left", "baseline": "middle", "dx": 2, "dy": -26, "fontSize": 16, "fontWeight": "bold"}, "encoding": {"y": {"field": "y2", "type": "quantitative", "scale": {"zero": false, "nice": false}, "axis": null}, "text": {"field": "t"}, "color": {"field": "d", "type": "nominal", "scale": {"domain": ["base", "up", "down"], "range": ["#b0c4de", "#228b22", "#b22222"]}, "legend": null}}},
  {"transform": [{"filter": "datum.k=='arr' && datum.d=='down'"}], "mark": {"type": "text", "align": "left", "baseline": "middle", "dx": 2, "dy": 26, "fontSize": 16, "fontWeight": "bold"}, "encoding": {"y": {"field": "y2", "type": "quantitative", "scale": {"zero": false, "nice": false}, "axis": null}, "text": {"field": "t"}, "color": {"field": "d", "type": "nominal", "scale": {"domain": ["base", "up", "down"], "range": ["#b0c4de", "#228b22", "#b22222"]}, "legend": null}}}
 ]},
{"title": {"text": "secp256k1 sign (/s)", "offset": 8.7}, "width": 320, "height": 155, "transform": [{"filter": "datum.p=='sign'"}],
 "encoding": {"x": {"field": "x", "type": "quantitative", "scale": {"domain": [5220.5, 5499.8], "nice": false, "zero": false}, "axis": {"values": [5233, 5425], "format": "d", "title": null, "grid": false, "domain": false, "tickColor": "#bbbbbb", "tickWidth": 2, "tickSize": 8, "offset": 9, "labelFontSize": 16, "labelColor": "#444444", "labelPadding": 10, "labelFlush": false, "labelFont": "DejaVu Sans"}}, "y": {"field": "y", "type": "quantitative", "scale": {"zero": false, "nice": false}, "axis": null}},
 "layer": [
  {"transform": [{"filter": "datum.k=='pt'"}], "mark": {"type": "circle", "size": 26, "color": "#b0c4de", "opacity": 1}},
  {"transform": [{"filter": "datum.k=='ln'"}], "mark": {"type": "line", "color": "#b0c4de", "strokeWidth": 1.2}},
  {"transform": [{"filter": "datum.k=='dot'"}], "mark": {"type": "rule", "strokeWidth": 2.5, "strokeDash": [2.5, 5]}, "encoding": {"y2": {"field": "y2"}, "color": {"field": "d", "type": "nominal", "scale": {"domain": ["base", "up", "down"], "range": ["#b0c4de", "#228b22", "#b22222"]}, "legend": null}}},
  {"transform": [{"filter": "datum.k=='arr'"}], "mark": {"type": "rule", "strokeWidth": 2.5}, "encoding": {"y2": {"field": "y2"}, "color": {"field": "d", "type": "nominal", "scale": {"domain": ["base", "up", "down"], "range": ["#b0c4de", "#228b22", "#b22222"]}, "legend": null}}},
  {"transform": [{"filter": "datum.k=='arr'"}], "mark": {"type": "point", "filled": true, "size": 324, "opacity": 1, "strokeWidth": 0}, "encoding": {"y": {"field": "y2", "type": "quantitative", "scale": {"zero": false, "nice": false}, "axis": null}, "color": {"field": "d", "type": "nominal", "scale": {"domain": ["base", "up", "down"], "range": ["#b0c4de", "#228b22", "#b22222"]}, "legend": null}, "shape": {"field": "d", "type": "nominal", "scale": {"domain": ["up", "down"], "range": ["M-1,1.5L1,1.5L0,0Z", "M-1,-1.5L1,-1.5L0,0Z"]}, "legend": null}}},
  {"transform": [{"filter": "datum.k=='lbl'"}], "mark": {"type": "point", "shape": "stroke", "size": 100, "strokeWidth": 2.5, "color": "#bbbbbb", "opacity": 1}},
  {"transform": [{"filter": "datum.k=='lbl'"}], "mark": {"type": "text", "align": "left", "baseline": "middle", "dx": 15, "fontSize": 16}, "encoding": {"text": {"field": "t"}, "color": {"field": "d", "type": "nominal", "scale": {"domain": ["base", "up", "down"], "range": ["#b0c4de", "#228b22", "#b22222"]}, "legend": null}}},
  {"transform": [{"filter": "datum.k=='arr' && datum.d=='up'"}], "mark": {"type": "text", "align": "left", "baseline": "middle", "dx": 2, "dy": -26, "fontSize": 16, "fontWeight": "bold"}, "encoding": {"y": {"field": "y2", "type": "quantitative", "scale": {"zero": false, "nice": false}, "axis": null}, "text": {"field": "t"}, "color": {"field": "d", "type": "nominal", "scale": {"domain": ["base", "up", "down"], "range": ["#b0c4de", "#228b22", "#b22222"]}, "legend": null}}},
  {"transform": [{"filter": "datum.k=='arr' && datum.d=='down'"}], "mark": {"type": "text", "align": "left", "baseline": "middle", "dx": 2, "dy": 26, "fontSize": 16, "fontWeight": "bold"}, "encoding": {"y": {"field": "y2", "type": "quantitative", "scale": {"zero": false, "nice": false}, "axis": null}, "text": {"field": "t"}, "color": {"field": "d", "type": "nominal", "scale": {"domain": ["base", "up", "down"], "range": ["#b0c4de", "#228b22", "#b22222"]}, "legend": null}}}
 ]},
{"title": "secp256k1 verify (/s)", "width": 320, "height": 155, "transform": [{"filter": "datum.p=='ver'"}],
 "encoding": {"x": {"field": "x", "type": "quantitative", "scale": {"domain": [5220.5, 5499.8], "nice": false, "zero": false}, "axis": {"values": [5233, 5425], "format": "d", "title": null, "grid": false, "domain": false, "tickColor": "#bbbbbb", "tickWidth": 2, "tickSize": 8, "offset": 9, "labelFontSize": 16, "labelColor": "#444444", "labelPadding": 10, "labelFlush": false, "labelFont": "DejaVu Sans"}}, "y": {"field": "y", "type": "quantitative", "scale": {"zero": false, "nice": false}, "axis": null}},
 "layer": [
  {"transform": [{"filter": "datum.k=='pt'"}], "mark": {"type": "circle", "size": 26, "color": "#b0c4de", "opacity": 1}},
  {"transform": [{"filter": "datum.k=='ln'"}], "mark": {"type": "line", "color": "#b0c4de", "strokeWidth": 1.2}},
  {"transform": [{"filter": "datum.k=='dot'"}], "mark": {"type": "rule", "strokeWidth": 2.5, "strokeDash": [2.5, 5]}, "encoding": {"y2": {"field": "y2"}, "color": {"field": "d", "type": "nominal", "scale": {"domain": ["base", "up", "down"], "range": ["#b0c4de", "#228b22", "#b22222"]}, "legend": null}}},
  {"transform": [{"filter": "datum.k=='arr'"}], "mark": {"type": "rule", "strokeWidth": 2.5}, "encoding": {"y2": {"field": "y2"}, "color": {"field": "d", "type": "nominal", "scale": {"domain": ["base", "up", "down"], "range": ["#b0c4de", "#228b22", "#b22222"]}, "legend": null}}},
  {"transform": [{"filter": "datum.k=='arr'"}], "mark": {"type": "point", "filled": true, "size": 324, "opacity": 1, "strokeWidth": 0}, "encoding": {"y": {"field": "y2", "type": "quantitative", "scale": {"zero": false, "nice": false}, "axis": null}, "color": {"field": "d", "type": "nominal", "scale": {"domain": ["base", "up", "down"], "range": ["#b0c4de", "#228b22", "#b22222"]}, "legend": null}, "shape": {"field": "d", "type": "nominal", "scale": {"domain": ["up", "down"], "range": ["M-1,1.5L1,1.5L0,0Z", "M-1,-1.5L1,-1.5L0,0Z"]}, "legend": null}}},
  {"transform": [{"filter": "datum.k=='lbl'"}], "mark": {"type": "point", "shape": "stroke", "size": 100, "strokeWidth": 2.5, "color": "#bbbbbb", "opacity": 1}},
  {"transform": [{"filter": "datum.k=='lbl'"}], "mark": {"type": "text", "align": "left", "baseline": "middle", "dx": 15, "fontSize": 16}, "encoding": {"text": {"field": "t"}, "color": {"field": "d", "type": "nominal", "scale": {"domain": ["base", "up", "down"], "range": ["#b0c4de", "#228b22", "#b22222"]}, "legend": null}}},
  {"transform": [{"filter": "datum.k=='arr' && datum.d=='up'"}], "mark": {"type": "text", "align": "left", "baseline": "middle", "dx": 2, "dy": -26, "fontSize": 16, "fontWeight": "bold"}, "encoding": {"y": {"field": "y2", "type": "quantitative", "scale": {"zero": false, "nice": false}, "axis": null}, "text": {"field": "t"}, "color": {"field": "d", "type": "nominal", "scale": {"domain": ["base", "up", "down"], "range": ["#b0c4de", "#228b22", "#b22222"]}, "legend": null}}},
  {"transform": [{"filter": "datum.k=='arr' && datum.d=='down'"}], "mark": {"type": "text", "align": "left", "baseline": "middle", "dx": 2, "dy": 26, "fontSize": 16, "fontWeight": "bold"}, "encoding": {"y": {"field": "y2", "type": "quantitative", "scale": {"zero": false, "nice": false}, "axis": null}, "text": {"field": "t"}, "color": {"field": "d", "type": "nominal", "scale": {"domain": ["base", "up", "down"], "range": ["#b0c4de", "#228b22", "#b22222"]}, "legend": null}}}
 ]}
]
}
